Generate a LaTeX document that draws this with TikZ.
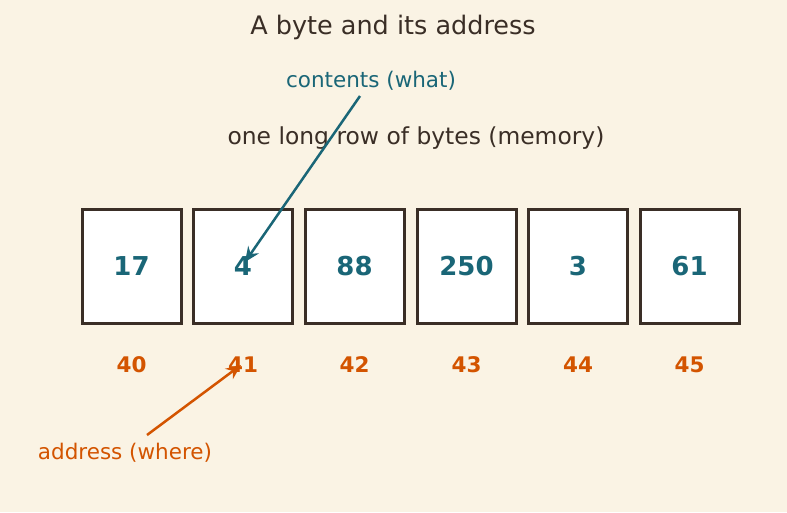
\documentclass[tikz,border=0pt]{standalone}
\usepackage{fontspec}
\setmainfont{DejaVu Sans}
\usetikzlibrary{arrows.meta}
\definecolor{bg}{HTML}{FAF3E4}
\definecolor{ink}{HTML}{3A2E26}
\definecolor{teal}{HTML}{1A6677}
\definecolor{orng}{HTML}{D35400}
\tikzset{
  bytebox/.style={draw=ink, line width=3pt, fill=white, minimum width=99pt, minimum height=114pt, inner sep=0pt,
    font=\fontsize{26}{30}\selectfont\bfseries, text=teal},
  addr/.style={font=\fontsize{21.5}{25}\selectfont\bfseries, text=orng},
  lbl/.style={font=\fontsize{21.5}{25}\selectfont, inner sep=0pt},
  ptr/.style={line width=2.5pt, -{Stealth[length=15pt,width=13pt,inset=5pt]}}
}
\begin{document}
\begin{tikzpicture}[x=1pt,y=-1pt]
\fill[bg] (0,0) rectangle (787,512);
\useasboundingbox (0,0) rectangle (787,512);
\node[lbl, text=ink, font=\fontsize{25.5}{30}\selectfont] (title) at (393,27.5) {A byte and its address};
\node[lbl, text=ink, font=\fontsize{23.4}{28}\selectfont] (row) at (416,138.5) {one long row of bytes (memory)};
\node[bytebox] (b0) at (131.5,266) {17};
\node[bytebox] (b1) at (243,266) {4};
\node[bytebox] (b2) at (354.5,266) {88};
\node[bytebox] (b3) at (466.5,266) {250};
\node[bytebox] (b4) at (578,266) {3};
\node[bytebox] (b5) at (689.5,266) {61};
\node[addr] (a0) at (131.5,365) {40};
\node[addr] (a1) at (243,365) {41};
\node[addr] (a2) at (354.5,365) {42};
\node[addr] (a3) at (466.5,365) {43};
\node[addr] (a4) at (578,365) {44};
\node[addr] (a5) at (689.5,365) {45};
\node[lbl, text=teal] (cont) at (371,80.5) {contents (what)};
\node[lbl, text=orng] (addrl) at (125,452.5) {address (where)};
\coordinate (cs) at (360,96);
\coordinate (ce) at (245,262);
\coordinate (as) at (147,435);
\coordinate (ae) at (241,365);
\draw[ptr, draw=teal, fill=teal] (cs) -- (ce);
\draw[ptr, draw=orng, fill=orng] (as) -- (ae);
\end{tikzpicture}
\end{document}
